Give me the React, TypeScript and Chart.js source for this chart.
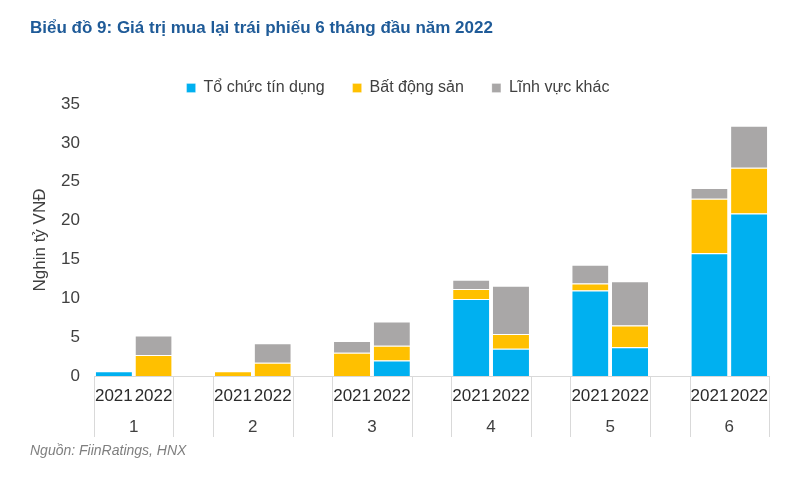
import React, { useEffect, useRef } from "react";
import { Chart, registerables } from "chart.js";

Chart.register(...registerables);

const months = ["1", "2", "3", "4", "5", "6"];
const years = ["2021", "2022"];
const seriesNames = ["Tổ chức tín dụng", "Bất động sản", "Lĩnh vực khác"];
const seriesColors = ["#00B0F0", "#FFC000", "#A9A7A7"];

// values per month, for 2021 and 2022 (nghìn tỷ VNĐ)
const creditInst2021 = [0.6, 0, 0, 9.9, 11.0, 15.8];
const creditInst2022 = [0, 0, 2.0, 3.5, 3.7, 20.9];
const realEstate2021 = [0, 0.6, 3.0, 1.3, 0.9, 7.0];
const realEstate2022 = [2.7, 1.7, 1.9, 1.9, 2.8, 5.9];
const other2021 = [0, 0, 1.5, 1.2, 2.4, 1.4];
const other2022 = [2.5, 2.5, 3.1, 6.2, 5.7, 5.4];

const yTicks = [0, 5, 10, 15, 20, 25, 30, 35];
const titleText = "Biểu đồ 9: Giá trị mua lại trái phiếu 6 tháng đầu năm 2022";
const yAxisTitle = "Nghin tỷ VNĐ";
const sourceText = "Nguồn: FiinRatings, HNX";

const FONT = "'Liberation Sans', Arial, sans-serif";

// build slots: 2021, 2022, (gap) for each month
const slotLabels: string[] = [];
const slotMonth: number[] = [];
months.forEach((m, i) => {
  years.forEach((y) => {
    slotLabels.push(y);
    slotMonth.push(i);
  });
  if (i < months.length - 1) {
    slotLabels.push("");
    slotMonth.push(-1);
  }
});

function toSlots(a2021: number[], a2022: number[]) {
  const out: (number | null)[] = [];
  months.forEach((_, i) => {
    out.push(a2021[i] || null);
    out.push(a2022[i] || null);
    if (i < months.length - 1) out.push(null);
  });
  return out;
}

const seriesSlots = [
  toSlots(creditInst2021, creditInst2022),
  toSlots(realEstate2021, realEstate2022),
  toSlots(other2021, other2022),
];

const legendTweak = {
  id: "legendTweak",
  afterInit(chart: any) {
    const lg = chart.legend;
    if (lg && !lg.__patched) {
      const orig = lg.fit;
      lg.fit = function () {
        orig.call(this);
        this.height -= 2;
      };
      lg.__patched = true;
    }
  },
};

const groupPlugin = {
  id: "groupAxis",
  afterDraw(chart: any) {
    const { ctx, chartArea, scales } = chart;
    const x = scales.x;
    const half = (x.getPixelForValue(1) - x.getPixelForValue(0)) / 2;
    ctx.save();
    ctx.strokeStyle = "#D9D9D9";
    ctx.lineWidth = 1;
    ctx.fillStyle = "#404040";
    ctx.font = `17px ${FONT}`;
    ctx.textAlign = "center";
    ctx.textBaseline = "middle";
    months.forEach((m, i) => {
      const first = slotMonth.indexOf(i);
      const x0 = x.getPixelForValue(first) - half;
      const x1 = x.getPixelForValue(first + 1) + half;
      [x0, x1].forEach((xx) => {
        const px = Math.round(xx) + 0.5;
        ctx.beginPath();
        ctx.moveTo(px, chartArea.bottom);
        ctx.lineTo(px, chartArea.bottom + 61);
        ctx.stroke();
      });
      ctx.fillText(m, (x0 + x1) / 2, chartArea.bottom + 51);
    });
    ctx.restore();
  },
};

function ChartCanvas() {
  const ref = useRef<HTMLCanvasElement | null>(null);
  useEffect(() => {
    if (!ref.current) return;
    const chart = new Chart(ref.current, {
      type: "bar",
      data: {
        labels: slotLabels,
        datasets: seriesNames.map((name, k) => ({
          label: name,
          data: seriesSlots[k],
          backgroundColor: seriesColors[k],
          borderColor: "#FFFFFF",
          borderWidth: { top: 1, left: 0, right: 0, bottom: 0 },
          borderSkipped: "bottom",
          barPercentage: 1,
          categoryPercentage: 0.91,
        })),
      },
      options: {
        animation: false,
        responsive: false,
        maintainAspectRatio: false,
        layout: { padding: { left: 27, right: 31, top: 52, bottom: 0 } },
        plugins: {
          legend: {
            position: "top",
            labels: {
              font: { family: FONT, size: 16 },
              color: "#404040",
              boxWidth: 9,
              boxHeight: 9,
              padding: 28,
            },
          },
          tooltip: { enabled: false },
        },
        scales: {
          x: {
            stacked: true,
            offset: true,
            grid: { display: false, drawTicks: false },
            border: { display: true, color: "#D9D9D9", width: 1 },
            ticks: {
              autoSkip: false,
              maxRotation: 0,
              padding: 10,
              color: "#2B2B2B",
              font: { family: FONT, size: 17 },
            },
            afterFit: (s: any) => {
              s.height = 101;
            },
          },
          y: {
            stacked: true,
            min: 0,
            max: 35,
            afterBuildTicks: (s: any) => {
              s.ticks = yTicks.map((v) => ({ value: v }));
            },
            grid: { display: false, drawTicks: false },
            border: { display: false },
            ticks: {
              padding: 14,
              color: "#404040",
              font: { family: FONT, size: 17 },
            },
            title: {
              display: true,
              text: yAxisTitle,
              color: "#404040",
              font: { family: FONT, size: 17 },
              padding: { top: 3, bottom: 4 },
            },
            afterFit: (s: any) => {
              s.width = 67;
            },
          },
        },
      },
      plugins: [legendTweak, groupPlugin],
    });
    return () => chart.destroy();
  }, []);
  return (
    <canvas
      ref={ref}
      width={800}
      height={477}
      style={{ position: "absolute", left: 0, top: 0, width: 800, height: 477 }}
    />
  );
}

export default function App() {
  return (
    <div
      style={{
        position: "fixed",
        left: 0,
        top: 0,
        width: 800,
        height: 477,
        background: "#FFFFFF",
        overflow: "hidden",
      }}
    >
      <ChartCanvas />
      <div
        style={{
          position: "absolute",
          left: 30,
          top: 18,
          fontFamily: FONT,
          fontWeight: "bold",
          fontSize: 17,
          color: "#1F5B98",
          whiteSpace: "nowrap",
        }}
      >
        {titleText}
      </div>
      <div
        style={{
          position: "absolute",
          left: 30,
          top: 442,
          fontFamily: FONT,
          fontStyle: "italic",
          fontSize: 14,
          color: "#7F7F7F",
          whiteSpace: "nowrap",
        }}
      >
        {sourceText}
      </div>
    </div>
  );
}
